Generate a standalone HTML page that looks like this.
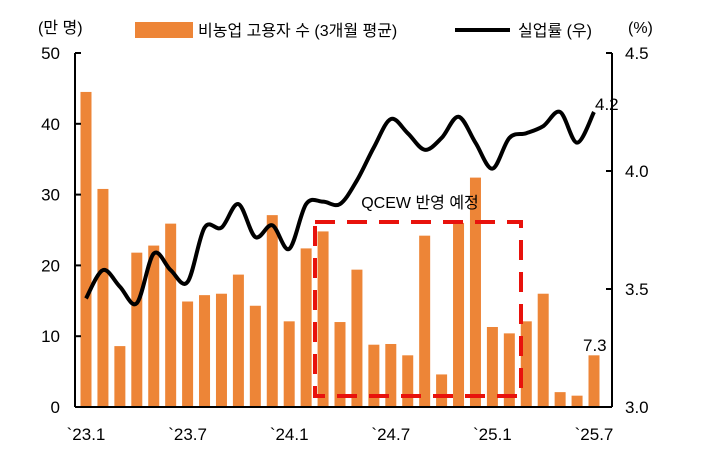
<!DOCTYPE html>
<html><head><meta charset="utf-8"><style>
body{margin:0;background:#fff}
svg text{font-family:"Liberation Sans","Noto Sans CJK KR",sans-serif;fill:#000}
</style></head><body>
<svg id="c" width="722" height="452" viewBox="0 0 722 452">
<text x="38" y="33" font-size="16">(만 명)</text>
<text x="628" y="33" font-size="16">(%)</text>
<g>
<rect x="135" y="22" width="58" height="16" fill="#ED8537"/>
<text x="198" y="36" font-size="16">비농업 고용자 수 (3개월 평균)</text>
<line x1="455" y1="30" x2="510" y2="30" stroke="#000" stroke-width="4"/>
<text x="518" y="36" font-size="16">실업률 (우)</text>
</g>
<g id="bars"></g>
<g id="axes"></g>
<rect x="315" y="222" width="206" height="174" fill="none" stroke="#E8120C" stroke-width="4" stroke-dasharray="20,12"/>
<text x="420" y="208" font-size="16" text-anchor="middle">QCEW 반영 예정</text>
<path id="line" fill="none" stroke="#000" stroke-width="4"/>
<text x="595" y="110" font-size="17">4.2</text>
<text x="583" y="351" font-size="17">7.3</text>
</svg>
<script>
const months=["23.1","23.2","23.3","23.4","23.5","23.6","23.7","23.8","23.9","23.10","23.11","23.12","24.1","24.2","24.3","24.4","24.5","24.6","24.7","24.8","24.9","24.10","24.11","24.12","25.1","25.2","25.3","25.4","25.5","25.6","25.7"];
const payrolls=[44.5,30.8,8.6,21.8,22.8,25.9,14.9,15.8,16,18.7,14.3,27.1,12.1,22.4,24.8,12,19.4,8.8,8.9,7.3,24.2,4.6,26,32.4,11.3,10.4,12.1,16,2.1,1.6,7.3];
const unemp=[3.46,3.58,3.51,3.44,3.65,3.58,3.53,3.76,3.76,3.86,3.72,3.77,3.67,3.86,3.87,3.86,3.96,4.10,4.22,4.16,4.09,4.14,4.23,4.12,4.01,4.14,4.16,4.19,4.25,4.12,4.25];
const leftTicks=[0,10,20,30,40,50];
const rightTicks=["3.0","3.5","4.0","4.5"];
const xLabelIdx=[0,6,12,18,24,30];
const NS="http://www.w3.org/2000/svg";
const x0=86,dx=(594-86)/30,yB=407,yT=53;
const xs=i=>x0+i*dx;
const yL=v=>yB-(v/50)*(yB-yT);
const yR=v=>yB-((v-3)/1.5)*(yB-yT);
function mk(t,a,p){const e=document.createElementNS(NS,t);for(const k in a)e.setAttribute(k,a[k]);p.appendChild(e);return e;}
const bars=document.getElementById('bars'),axes=document.getElementById('axes');
payrolls.forEach((v,i)=>{const r=mk('rect',{x:xs(i)-5.5,y:yL(v),width:11,height:yB-yL(v),fill:'#ED8537'},bars);

});
mk('line',{x1:75,y1:yT,x2:75,y2:yB,stroke:'#000','stroke-width':2},axes);
mk('line',{x1:612,y1:yT,x2:612,y2:yB,stroke:'#000','stroke-width':2},axes);
mk('line',{x1:75,y1:yB,x2:612,y2:yB,stroke:'#000','stroke-width':2},axes);
leftTicks.forEach(v=>{mk('line',{x1:75,y1:yL(v),x2:81,y2:yL(v),stroke:'#000','stroke-width':2},axes);
const t=mk('text',{x:60,y:yL(v)+6,'font-size':17,'text-anchor':'end'},axes);t.textContent=v;

});
rightTicks.forEach(v=>{const y=yR(+v);mk('line',{x1:606,y1:y,x2:612,y2:y,stroke:'#000','stroke-width':2},axes);
const t=mk('text',{x:625,y:y+6,'font-size':17},axes);t.textContent=v;

});
xLabelIdx.forEach(i=>{const t=mk('text',{x:xs(i),y:440,'font-size':17,'text-anchor':'middle'},axes);t.textContent='`'+months[i];

});
const P=unemp.map((v,i)=>[xs(i),yR(v)]);
let d='M'+P[0][0]+','+P[0][1];
for(let i=0;i<P.length-1;i++){const p0=P[Math.max(i-1,0)],p1=P[i],p2=P[i+1],p3=P[Math.min(i+2,P.length-1)];
const c1=[p1[0]+(p2[0]-p0[0])/6,p1[1]+(p2[1]-p0[1])/6],c2=[p2[0]-(p3[0]-p1[0])/6,p2[1]-(p3[1]-p1[1])/6];
d+=' C'+c1+' '+c2+' '+p2;}
document.getElementById('line').setAttribute('d',d);
</script>
</body></html>
